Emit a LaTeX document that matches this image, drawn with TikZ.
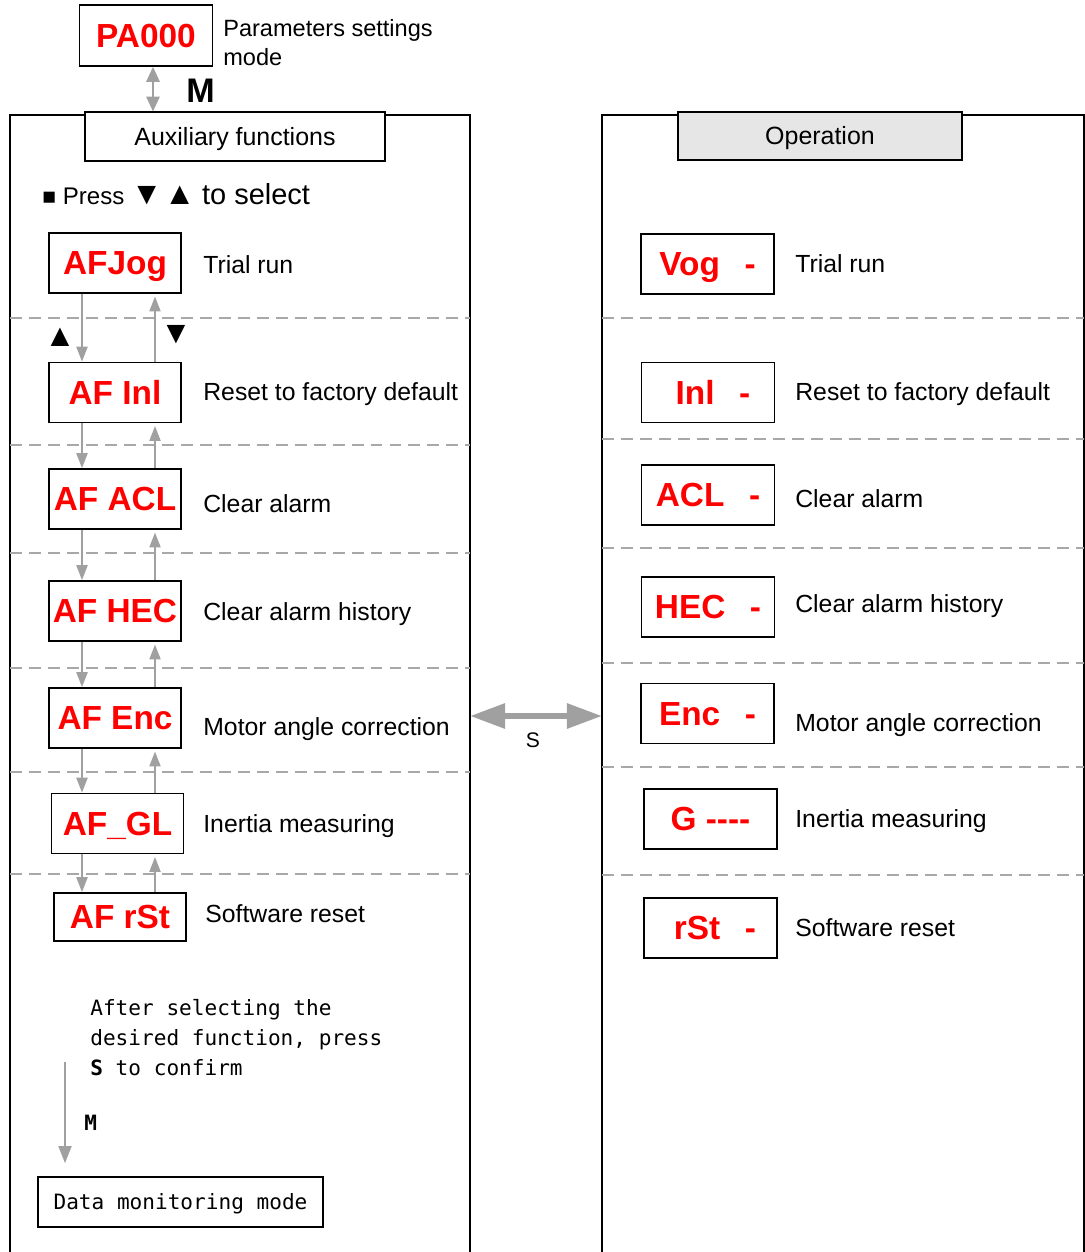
\documentclass[tikz,border=0pt]{standalone}
\usepackage{fontspec}
\setmainfont{Liberation Sans}
\setmonofont{DejaVu Sans Mono}
\usetikzlibrary{arrows.meta}
\definecolor{arrgray}{HTML}{A0A0A0}
\definecolor{dashgray}{HTML}{A8A8A8}
\definecolor{opfill}{HTML}{E6E6E6}
\newcommand{\dgap}{\hspace{14pt}}
\begin{document}
\begin{tikzpicture}[x=0.02cm, y=-0.02cm,
	redbox/.style={draw, line width=1pt, text=red, font=\bfseries\fontsize{19}{22}\selectfont, minimum width=2.64cm, minimum height=1.2cm, inner sep=0pt, text height=13.6pt, text depth=0pt},
	titlebox/.style={draw, line width=0.9pt, font=\fontsize{14.2}{16}\selectfont, minimum width=6cm, minimum height=0.97cm, inner sep=0pt, text height=10.2pt, text depth=0pt},
	desc/.style={anchor=base west, inner sep=0pt, font=\fontsize{14.1}{16}\selectfont},
	sep/.style={dashgray, line width=0.8pt, dash pattern=on 6.8pt off 4pt},
	panel/.style={line width=0.9pt},
	updn/.style={arrgray, line width=1.1pt, -{Triangle[length=8.5pt, width=6.3pt]}},
	bigarr/.style={arrgray, line width=3.4pt, {Triangle[length=20pt, width=13.7pt]}-{Triangle[length=20pt, width=13.7pt]}}]

	\useasboundingbox (0,0) rectangle (1085,1252);

	\draw[panel] (10,1252) -- (10,115) -- (470,115) -- (470,1252);
	\draw[panel] (602,1252) -- (602,115) -- (1084,115) -- (1084,1252);
	\foreach \y in {318,445,553,668,772,874}
		\draw[sep] (10,\y) -- (470,\y);
	\foreach \y in {318,439,548,663,767,875}
		\draw[sep] (602,\y) -- (1084,\y);

	\node[redbox, minimum width=2.66cm, minimum height=1.22cm] (pa) at (146,35.5) {PA000};
	\node[desc, align=left, font=\fontsize{13.4}{16.5}\selectfont] (patxt) at (223,65) {Parameters settings\\mode};
	\node[titlebox, fill=white] (aux) at (235,136.5) {Auxiliary functions};
	\node[titlebox, fill=opfill, minimum width=5.68cm] (op) at (820,136) {Operation};
	\coordinate (mx) at (153,0);
	\draw[arrgray, line width=1.1pt, {Triangle[length=8.5pt, width=7.6pt]}-{Triangle[length=8.5pt, width=7.6pt]}] (pa.south -| mx) -- (aux.north -| mx);
	\node[desc, font=\bfseries\fontsize{19.4}{22}\selectfont] (mkey) at (186,102) {M};

	\node[desc, font=\fontsize{13.7}{15}\selectfont] (press) at (42,204) {{\fontsize{13}{14}\selectfont ■} Press {\fontsize{18}{20}\selectfont ▼\hspace{1pt}▲} {\fontsize{16.5}{18}\selectfont to select}};

	\node[redbox] (jog) at (115,263) {AFJog};
	\node[redbox] (inl) at (115,392.5) {AF Inl};
	\node[redbox] (acl) at (115,499) {AF ACL};
	\node[redbox] (hec) at (115,611) {AF HEC};
	\node[redbox] (enc) at (115,718) {AF Enc};
	\node[redbox] (gl) at (117.5,823.5) {AF\_GL};
	\node[redbox, minimum height=0.96cm] (rst) at (120,917) {AF rSt};

	\node[desc] (djog) at (203,273) {Trial run};
	\node[desc] (dinl) at (203,400) {Reset to factory default};
	\node[desc] (dacl) at (203,512) {Clear alarm};
	\node[desc] (dhec) at (203,620) {Clear alarm history};
	\node[desc] (denc) at (203,735) {Motor angle correction};
	\node[desc] (dgl) at (203,832) {Inertia measuring};
	\node[desc] (drst) at (205,922) {Software reset};

	\coordinate (dnx) at (82,0);
	\coordinate (upx) at (155,0);
	\foreach \a/\b in {jog/inl, inl/acl, acl/hec, hec/enc, enc/gl, gl/rst} {
		\draw[updn] (\a.south -| dnx) -- (\b.north -| dnx);
		\draw[updn, shorten >=1.5pt] (\b.north -| upx) -- (\a.south -| upx);
	}
	\node[font=\fontsize{18}{20}\selectfont, inner sep=0pt] (upkey) at (60,337) {▲};
	\node[font=\fontsize{18}{20}\selectfont, inner sep=0pt] (dnkey) at (176,335) {▼};

	\node[redbox, minimum width=2.66cm] (vog) at (707.5,264) {Vog\dgap-};
	\node[redbox, minimum width=2.66cm] (rinl) at (708,392.5) {\hspace{5.7pt}Inl\dgap-};
	\node[redbox, minimum width=2.66cm] (racl) at (708,495) {ACL\dgap-};
	\node[redbox, minimum width=2.66cm] (rhec) at (708,607) {HEC\dgap-};
	\node[redbox, minimum width=2.66cm] (renc) at (707.5,713.5) {Enc\dgap-};
	\node[redbox, minimum width=2.66cm] (rg) at (710.5,819) {G -{}-{}-{}-};
	\node[redbox, minimum width=2.66cm] (rrst) at (710.5,928) {\hspace{5pt}rSt\dgap-};

	\node[desc] (dvog) at (795,272) {Trial run};
	\node[desc] (drinl) at (795,400) {Reset to factory default};
	\node[desc] (dracl) at (795,507) {Clear alarm};
	\node[desc] (drhec) at (795,612) {Clear alarm history};
	\node[desc] (drenc) at (795,731) {Motor angle correction};
	\node[desc] (drg) at (795,827) {Inertia measuring};
	\node[desc] (drrst) at (795,936) {Software reset};

	\coordinate (sl) at (470,716);
	\coordinate (sr) at (602,716);
	\draw[bigarr] (sl) -- (sr);
	\node[anchor=base, inner sep=0pt, font=\fontsize{12}{14}\selectfont] (skey) at (533,747) {S};

	\node[desc, align=left, font=\ttfamily\fontsize{12}{17}\selectfont] (hint) at (90,1075) {After selecting the\\desired function, press\\\textbf{S} to confirm};
	\node[draw, line width=0.9pt, font=\ttfamily\fontsize{12}{14}\selectfont, minimum width=5.7cm, minimum height=1cm, inner sep=0pt, text height=8.75pt, text depth=0pt] (dmon) at (180.5,1202) {Data monitoring mode};
	\coordinate (mtop) at (65,1062);
	\draw[updn, -{Triangle[length=9.7pt, width=7.4pt]}, shorten >=7.4pt] (mtop) -- (mtop |- dmon.north);
	\node[desc, font=\ttfamily\bfseries\fontsize{12}{14}\selectfont] (mkey2) at (84,1130) {M};
\end{tikzpicture}
\end{document}
